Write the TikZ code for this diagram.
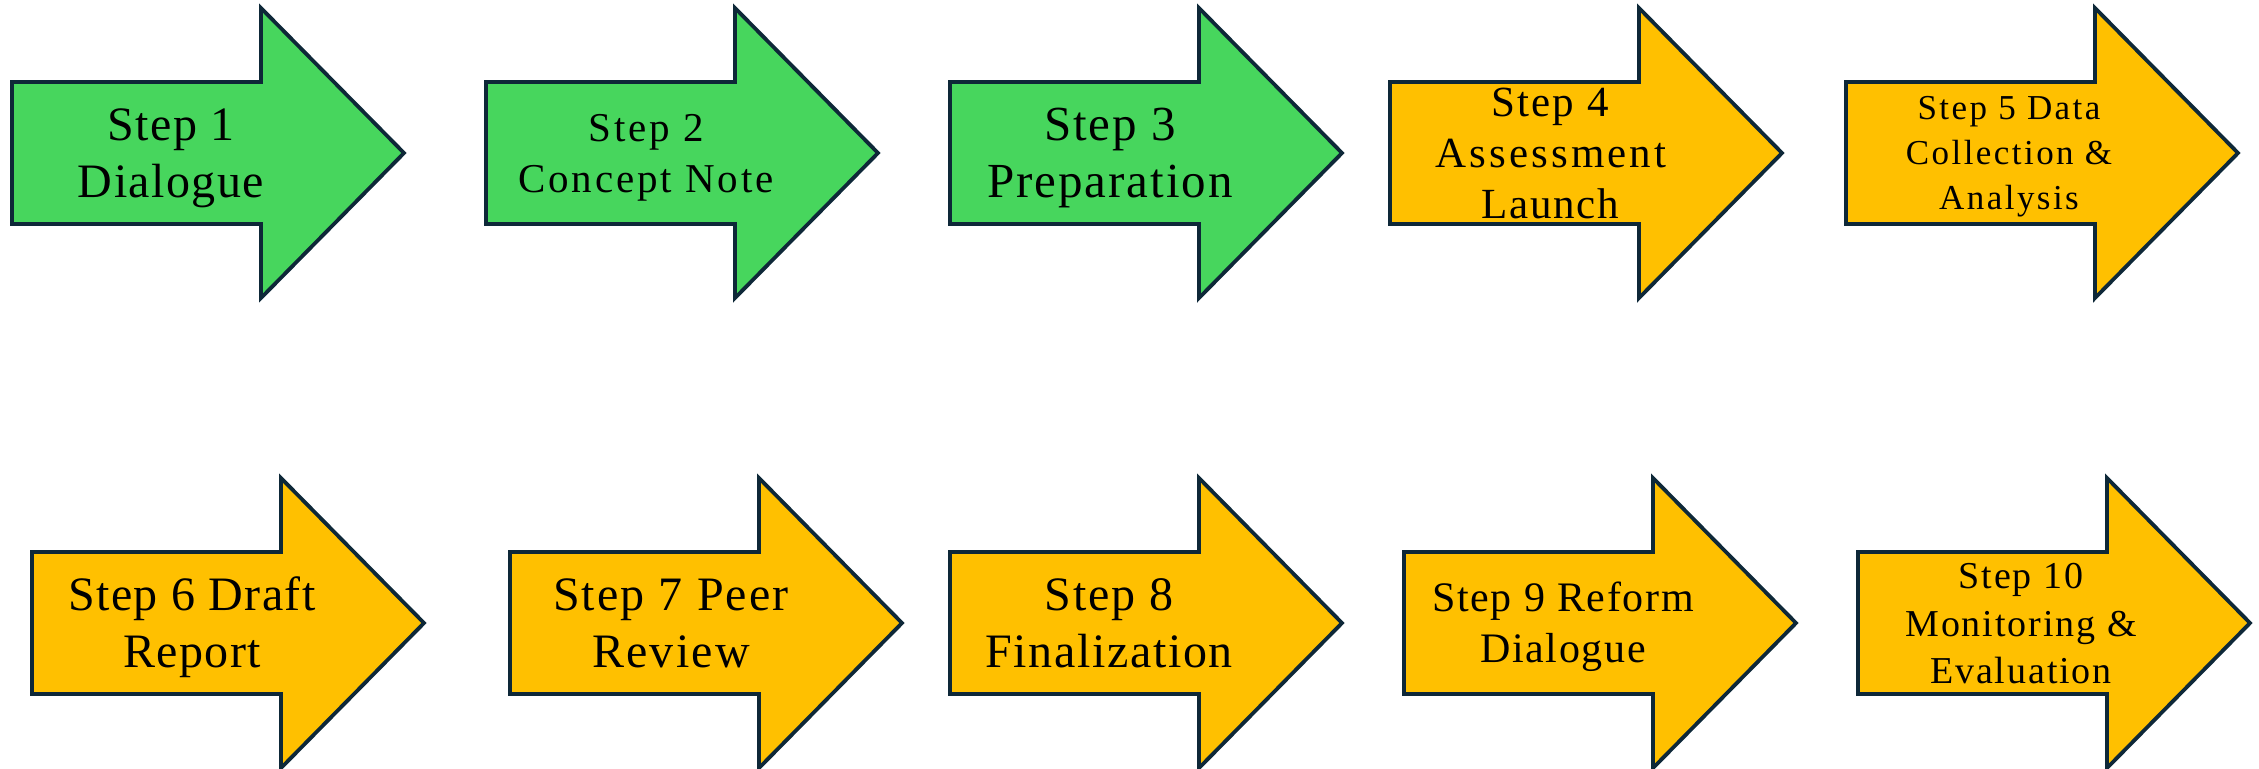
\documentclass[tikz,border=0pt]{standalone}
\usepackage{fontspec}
\setmainfont{Liberation Serif}
\definecolor{edgec}{HTML}{0E2838}
\definecolor{stepgreen}{HTML}{47D65D}
\definecolor{stepyellow}{HTML}{FFC000}
\newcommand{\lblfont}[2]{\fontsize{#1}{#1}\selectfont\addfontfeatures{LetterSpace=#2}}
\newcommand{\steparrowshape}[3]{%
  \draw[arrowline,#3] (#1,#2-71) -- ++(249,0) -- ++(0,-74) -- ++(143,145)
    -- ++(-143,145) -- ++(0,-74) -- ++(-249,0) -- cycle;}
\begin{document}
\begin{tikzpicture}[x=0.5pt,y=-0.5pt,
  arrowline/.style={draw=edgec,line width=1.9pt,line join=miter},
  greenfill/.style={fill=stepgreen},
  yellowfill/.style={fill=stepyellow},
  lbl/.style={anchor=base,inner sep=0pt,text=black}]
\useasboundingbox (0,0) rectangle (2259,768);
% row 1
\steparrowshape{12}{153}{greenfill}
\steparrowshape{486}{153}{greenfill}
\steparrowshape{950}{153}{greenfill}
\steparrowshape{1390}{153}{yellowfill}
\steparrowshape{1846}{153}{yellowfill}
% row 2
\steparrowshape{32}{623}{yellowfill}
\steparrowshape{510}{623}{yellowfill}
\steparrowshape{950}{623}{yellowfill}
\steparrowshape{1404}{623}{yellowfill}
\steparrowshape{1858}{623}{yellowfill}
% labels
\node[lbl,font=\lblfont{24}{3}] (s1a) at (171,140) {Step 1};
\node[lbl,font=\lblfont{24}{3}] (s1b) at (171,197) {Dialogue};
\node[lbl,font=\lblfont{20.5}{7}] (s2a) at (646,141) {Step 2};
\node[lbl,font=\lblfont{20.5}{7}] (s2b) at (646,192) {Concept Note};
\node[lbl,font=\lblfont{24.5}{4}] (s3a) at (1110,140) {Step 3};
\node[lbl,font=\lblfont{24.5}{4}] (s3b) at (1110,197) {Preparation};
\node[lbl,font=\lblfont{21.5}{5}] (s4a) at (1550,116) {Step 4};
\node[lbl,font=\lblfont{21.5}{7}] (s4b) at (1551,167) {Assessment};
\node[lbl,font=\lblfont{21.5}{4}] (s4c) at (1550,218) {Launch};
\node[lbl,font=\lblfont{17.5}{7}] (s5a) at (2009,119) {Step 5 Data};
\node[lbl,font=\lblfont{17.5}{7}] (s5b) at (2009,164) {Collection \&};
\node[lbl,font=\lblfont{17.5}{7}] (s5c) at (2009,209) {Analysis};
\node[lbl,font=\lblfont{24}{3}] (s6a) at (192,610) {Step 6 Draft};
\node[lbl,font=\lblfont{24}{3}] (s6b) at (192,667) {Report};
\node[lbl,font=\lblfont{24}{4.5}] (s7a) at (671,610) {Step 7 Peer};
\node[lbl,font=\lblfont{24}{4.5}] (s7b) at (671,667) {Review};
\node[lbl,font=\lblfont{24}{3.5}] (s8a) at (1109,610) {Step 8};
\node[lbl,font=\lblfont{24}{3.5}] (s8b) at (1109,667) {Finalization};
\node[lbl,font=\lblfont{21}{4}] (s9a) at (1563,611) {Step 9 Reform};
\node[lbl,font=\lblfont{21}{4}] (s9b) at (1563,662) {Dialogue};
\node[lbl,font=\lblfont{19}{5}] (s10a) at (2021,588) {Step 10};
\node[lbl,font=\lblfont{19}{5}] (s10b) at (2021,636) {Monitoring \&};
\node[lbl,font=\lblfont{19}{5}] (s10c) at (2021,683) {Evaluation};
\end{tikzpicture}
\end{document}
